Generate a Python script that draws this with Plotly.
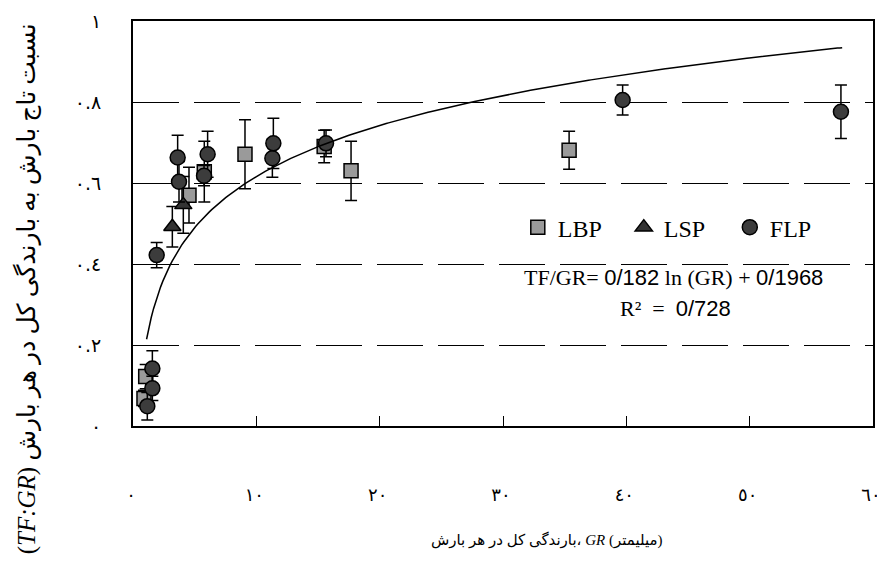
import numpy as np
import plotly.graph_objects as go

# ---- data ----
lbp_x = [0.89, 1.03, 4.54, 5.78, 9.08, 15.5, 17.68, 35.36]
lbp_y = [0.068, 0.122, 0.570, 0.628, 0.671, 0.690, 0.630, 0.681]
lbp_err = [0.02, 0.03, 0.069, 0.075, 0.085, 0.04, 0.073, 0.047]

lsp_x = [3.19, 4.08]
lsp_y = [0.492, 0.546]
lsp_err = [0.05, 0.07]

flp_x = [1.16, 1.57, 1.57, 1.92, 3.62, 3.73, 5.76, 6.05, 11.3, 11.38, 15.65, 39.7, 57.4]
flp_y = [0.049, 0.093, 0.142, 0.422, 0.663, 0.603, 0.618, 0.671, 0.661, 0.698, 0.698, 0.805, 0.776]
flp_err = [0.034, 0.03, 0.044, 0.031, 0.055, 0.05, 0.025, 0.057, 0.047, 0.062, 0.033, 0.037, 0.066]

# fitted trend shown on the chart: TF/GR = a ln(GR) + b
trend_a = 0.182
trend_b = 0.1968
trend_x_start = 1.1
trend_x_end = 57.5

x_tick_vals = [0, 10, 20, 30, 40, 50, 60]
x_tick_text = ["٠", "١٠", "٢٠", "٣٠", "٤٠", "٥٠", "٦٠"]
y_tick_vals = [0, 0.2, 0.4, 0.6, 0.8, 1.0]
y_tick_text = ["٠", "٠.٢", "٠.٤", "٠.٦", "٠.٨", "١"]

SERIF = "Liberation Serif, Times New Roman, DejaVu Sans, serif"

fig = go.Figure()

def err(vals):
    return dict(type="data", array=vals, visible=True, color="black",
                thickness=1.5, width=6)

fig.add_trace(go.Scatter(
    x=lbp_x, y=lbp_y, mode="markers", name="LBP",
    marker=dict(symbol="square", size=14, color="#9a9a9a",
                line=dict(color="black", width=1.5)),
    error_y=err(lbp_err)))
fig.add_trace(go.Scatter(
    x=lsp_x, y=lsp_y, mode="markers", name="LSP",
    marker=dict(symbol="triangle-up", size=15, color="#333333",
                line=dict(color="black", width=1.5)),
    error_y=err(lsp_err)))
fig.add_trace(go.Scatter(
    x=flp_x, y=flp_y, mode="markers", name="FLP",
    marker=dict(symbol="circle", size=15, color="#3c3c3c",
                line=dict(color="black", width=1.5)),
    error_y=err(flp_err)))

tx = np.linspace(trend_x_start, trend_x_end, 300)
ty = trend_a * np.log(tx) + trend_b
fig.add_trace(go.Scatter(x=tx, y=ty, mode="lines", showlegend=False,
                         line=dict(color="black", width=1.5), hoverinfo="skip"))

# the page body adds an 8px offset; figure size and margins compensate for it
fig.update_layout(
    width=877, height=561,
    margin=dict(l=125, r=12, t=13, b=143, autoexpand=False),
    paper_bgcolor="white", plot_bgcolor="white",
    font=dict(family=SERIF, color="black"),
    legend=dict(orientation="h", x=0.52, y=0.49, xanchor="left", yanchor="middle",
                font=dict(family=SERIF, size=24, color="black"),
                bgcolor="rgba(0,0,0,0)", itemclick=False, entrywidth=61),
    xaxis=dict(range=[0, 60], tickvals=x_tick_vals, ticktext=x_tick_text,
               showgrid=False, zeroline=False, showline=True, linecolor="black",
               linewidth=2, mirror=True, ticks="inside", ticklen=10,
               tickcolor="black", tickwidth=1, automargin=False,
               tickfont=dict(family="DejaVu Sans", size=18, color="black"),
               ticklabelstandoff=51, ticklabelshift=-2, ticklabeloverflow="allow"),
    yaxis=dict(range=[0, 1], tickvals=y_tick_vals, ticktext=y_tick_text,
               showgrid=True, gridcolor="black", gridwidth=1, griddash="46px,15px",
               zeroline=False, showline=True, linecolor="black", linewidth=2,
               mirror=True, ticks="inside", ticklen=6, tickcolor="black",
               automargin=False,
               tickfont=dict(family="DejaVu Sans", size=19, color="black"),
               ticklabelstandoff=26),
)

fig.add_annotation(
    xref="paper", yref="paper", x=0.559, y=-0.281, showarrow=False,
    xanchor="center", yanchor="middle",
    text="بارندگی کل در هر بارش، <i>GR</i> (میلیمتر)",
    font=dict(family=SERIF, size=15, color="black"))

fig.add_annotation(
    xref="paper", yref="paper", x=-0.143, y=0.338, showarrow=False, textangle=-90,
    xanchor="center", yanchor="middle",
    text="(<i>TF:GR</i>) نسبت تاج بارش به بارندگی کل در هر بارش",
    font=dict(family=SERIF, size=25, color="black"))

fig.add_annotation(
    xref="paper", yref="paper", x=0.73, y=0.366, showarrow=False,
    xanchor="center", yanchor="middle",
    text=('TF/GR= <span style="font-family:Liberation Sans">0/182</span> ln (GR) + '
          '<span style="font-family:Liberation Sans">0/1968</span>'),
    font=dict(family=SERIF, size=22, color="black"))

fig.add_annotation(
    xref="paper", yref="paper", x=0.733, y=0.289, showarrow=False,
    xanchor="center", yanchor="middle",
    text='R²  =  <span style="font-family:Liberation Sans">0/728</span>',
    font=dict(family=SERIF, size=22, color="black"))

fig.write_html("out.html")
